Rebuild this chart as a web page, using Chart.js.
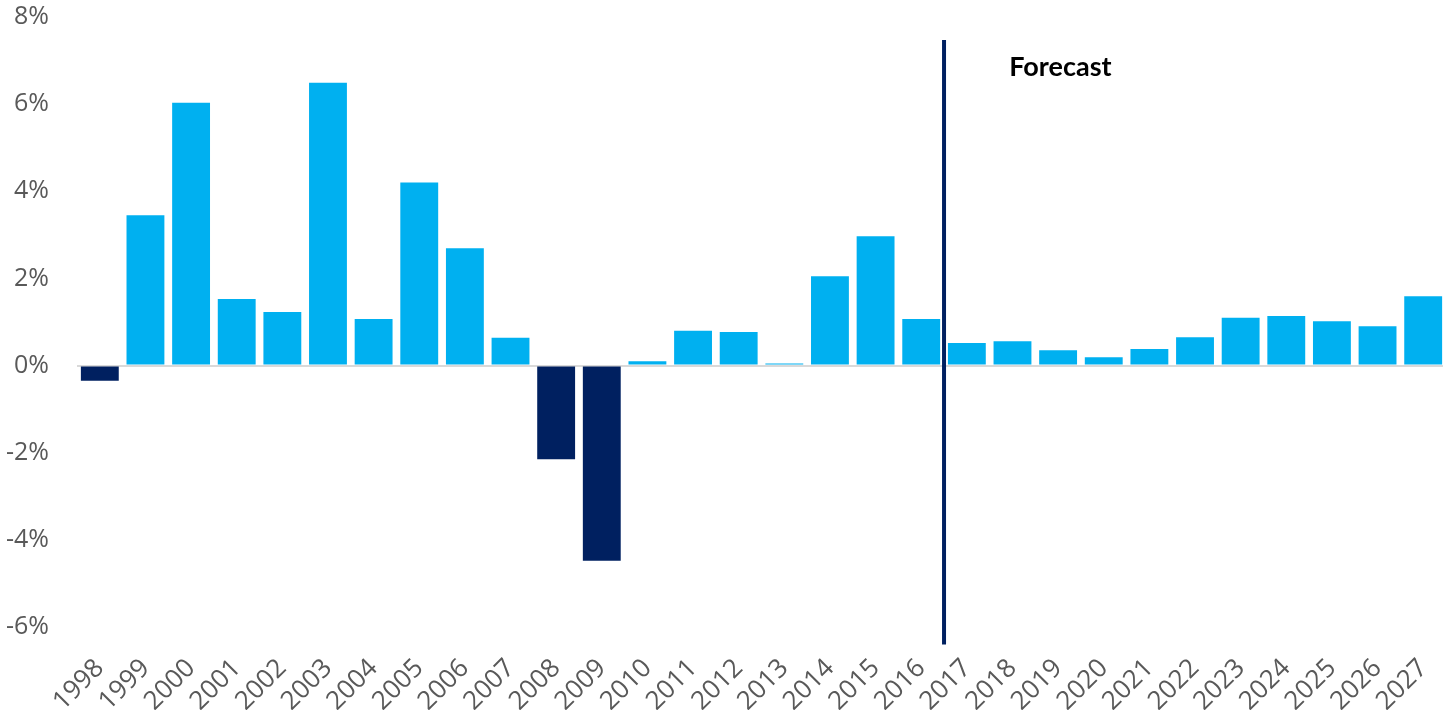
<!DOCTYPE html>
<html>
<head>
<meta charset="utf-8">
<title>Growth with forecast</title>
<script src="https://cdn.jsdelivr.net/npm/chart.js@4/dist/chart.umd.min.js"></script>
<style>
  html, body { margin: 0; padding: 0; background: #fff; overflow: hidden; }
</style>
</head>
<body>
<canvas id="chart" width="1446" height="710"></canvas>
<script>
// data (percent)
const years = ['1998','1999','2000','2001','2002','2003','2004','2005','2006','2007',
  '2008','2009','2010','2011','2012','2013','2014','2015','2016','2017',
  '2018','2019','2020','2021','2022','2023','2024','2025','2026','2027'];
const growth = [-0.35, 3.45, 6.03, 1.53, 1.23, 6.49, 1.07, 4.2, 2.69, 0.64,
  -2.15, -4.48, 0.1, 0.8, 0.77, 0.05, 2.05, 2.97, 1.07, 0.52,
  0.56, 0.35, 0.19, 0.38, 0.65, 1.1, 1.14, 1.02, 0.9, 1.59];
const yTicks = [-6, -4, -2, 0, 2, 4, 6, 8];

const forecastText = 'Forecast';
const forecastAt = 18.5;     // category index between 2016 and 2017
const forecastTextAt = 21.05;
const forecastTextValue = 6.85;
const lineTop = 7.47;
const lineBottom = -6.4;

const lightBlue = '#00B0F0';
const navy = '#002060';
const tickGray = '#595959';

const barColors = growth.map(v => v < 0 ? navy : lightBlue);

const forecastPlugin = {
  id: 'forecast',
  afterDatasetsDraw(chart) {
    const { ctx, scales: { x, y } } = chart;
    const px = x.getPixelForValue(forecastAt);
    ctx.save();
    ctx.strokeStyle = navy;
    ctx.lineWidth = 4;
    ctx.beginPath();
    ctx.moveTo(px, y.getPixelForValue(lineTop));
    ctx.lineTo(px, y.getPixelForValue(lineBottom));
    ctx.stroke();

    ctx.font = 'bold 27px Lato';
    ctx.fillStyle = '#000';
    ctx.textAlign = 'center';
    ctx.textBaseline = 'middle';
    ctx.fillText(forecastText, x.getPixelForValue(forecastTextAt), y.getPixelForValue(forecastTextValue));
    ctx.restore();
  }
};

new Chart(document.getElementById('chart'), {
  type: 'bar',
  data: {
    labels: years,
    datasets: [{
      data: growth,
      backgroundColor: barColors,
      borderWidth: 0,
      barPercentage: 0.83,
      categoryPercentage: 1
    }]
  },
  options: {
    responsive: false,
    animation: false,
    layout: { padding: { top: 17, right: 0, left: 0, bottom: 0 } },
    plugins: {
      legend: { display: false },
      tooltip: { enabled: false }
    },
    scales: {
      x: {
        grid: { display: false, drawTicks: false },
        border: { display: false },
        ticks: {
          color: tickGray,
          font: { family: 'Open Sans', size: 26 },
          minRotation: 45,
          maxRotation: 45,
          autoSkip: false,
          padding: 26
        },
        afterFit: s => {
          s.height = 83;
          s.paddingLeft = 0;
          s.paddingRight = 0;
        }
      },
      y: {
        min: yTicks[0],
        max: yTicks[yTicks.length - 1],
        afterBuildTicks: s => { s.ticks = yTicks.map(v => ({ value: v })); },
        grid: {
          drawTicks: false,
          lineWidth: 2,
          color: c => c.tick && c.tick.value === 0 ? '#D9D9D9' : 'rgba(0,0,0,0)'
        },
        border: { display: false },
        ticks: {
          color: tickGray,
          font: { family: 'Open Sans', size: 25 },
          padding: 28,
          callback: v => v + '%'
        },
        afterFit: s => {
          s.width = 77;
          s.paddingTop = 0;
          s.paddingBottom = 0;
        }
      }
    }
  },
  plugins: [forecastPlugin]
});
</script>
</body>
</html>
